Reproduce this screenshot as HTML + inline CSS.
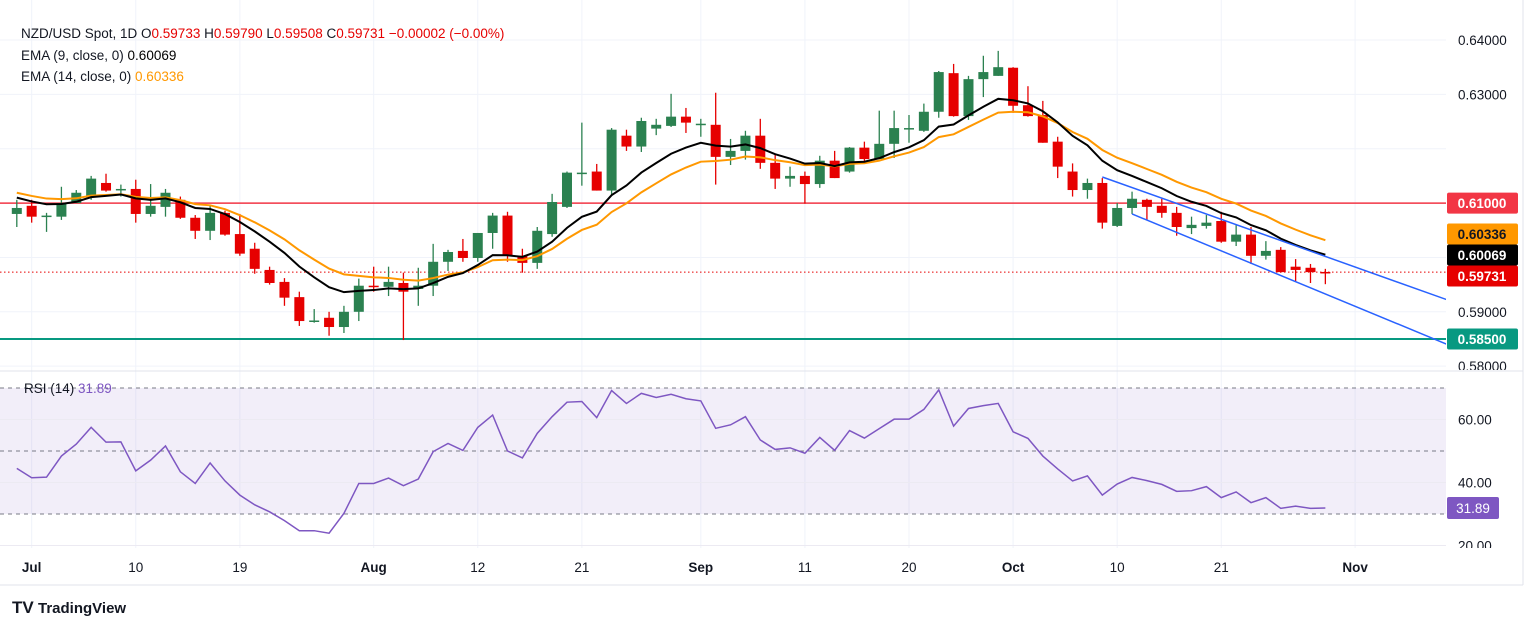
<!DOCTYPE html>
<html><head><meta charset="utf-8">
<style>
html,body{margin:0;padding:0;background:#fff;}
body{width:1536px;height:629px;overflow:hidden;font-family:"Liberation Sans",sans-serif;}
svg{display:block;}
</style></head>
<body>
<svg id="chart" width="1536" height="629" viewBox="0 0 1536 629" xmlns="http://www.w3.org/2000/svg" font-family="Liberation Sans, sans-serif">
  <g id="grid"></g>
  <g id="rsipane"></g>
  <g id="main"></g>
  <g id="axes"></g>
  <g font-size="13.5">
    <text x="21" y="38" fill="#131722">NZD/USD Spot, 1D  O<tspan fill="#e60000">0.59733</tspan>  H<tspan fill="#e60000">0.59790</tspan>  L<tspan fill="#e60000">0.59508</tspan>  C<tspan fill="#e60000">0.59731</tspan>  <tspan fill="#e60000">−0.00002 (−0.00%)</tspan></text>
    <text x="21" y="60" fill="#131722">EMA (9, close, 0)  <tspan fill="#000">0.60069</tspan></text>
    <text x="21" y="81" fill="#131722">EMA (14, close, 0)  <tspan fill="#ff9800">0.60336</tspan></text>
    <text x="24" y="393" fill="#131722">RSI (14)  <tspan fill="#7e57c2">31.89</tspan></text>
  </g>
  <g>
    <text x="12" y="613" font-size="17" font-weight="bold" fill="#131722">TV</text>
    <text x="38" y="613" font-size="15" font-weight="bold" fill="#131722">TradingView</text>
  </g>
</svg>
<script>
const opens=[0.6080,0.6095,0.6075,0.6075,0.6100,0.6113,0.6137,0.6124,0.6126,0.6080,0.6093,0.6106,0.6073,0.6049,0.6082,0.6043,0.6016,0.5977,0.5955,0.5927,0.5882,0.5889,0.5872,0.5900,0.5948,0.5946,0.5953,0.5942,0.5948,0.5992,0.6012,0.5999,0.6045,0.6077,0.6003,0.5990,0.6043,0.6093,0.6154,0.6158,0.6123,0.6224,0.6204,0.6237,0.6242,0.6259,0.6244,0.6244,0.6185,0.6196,0.6224,0.6174,0.6145,0.6150,0.6135,0.6178,0.6158,0.6202,0.6181,0.6209,0.6237,0.6233,0.6268,0.6339,0.6260,0.6328,0.6334,0.6349,0.6280,0.6262,0.6213,0.6158,0.6124,0.6137,0.6058,0.6091,0.6106,0.6095,0.6082,0.6054,0.6058,0.6067,0.6029,0.6042,0.6003,0.6014,0.5983,0.5981,0.59733];
const highs=[0.6106,0.6106,0.6082,0.6130,0.6124,0.6150,0.6154,0.6134,0.6143,0.6135,0.6126,0.6112,0.6078,0.6097,0.6086,0.6080,0.6027,0.5983,0.5962,0.5937,0.5905,0.5900,0.5911,0.5961,0.5983,0.5983,0.5972,0.5981,0.6025,0.6014,0.6034,0.6045,0.6082,0.6084,0.6016,0.6056,0.6117,0.6158,0.6248,0.6172,0.6238,0.6235,0.6257,0.6255,0.6301,0.6275,0.6255,0.6303,0.6218,0.6233,0.6255,0.6189,0.6167,0.6158,0.6187,0.6196,0.6203,0.6213,0.6270,0.6270,0.6262,0.6283,0.6343,0.6356,0.6334,0.6371,0.6380,0.6350,0.6315,0.6288,0.6222,0.6173,0.6145,0.6146,0.6100,0.6121,0.6108,0.6108,0.6093,0.6075,0.6078,0.6084,0.6060,0.6056,0.6030,0.6019,0.5997,0.5988,0.59790];
const lows=[0.6056,0.6064,0.6047,0.6069,0.6100,0.6106,0.6121,0.6112,0.6064,0.6075,0.6075,0.6071,0.6034,0.6032,0.6040,0.6003,0.5970,0.5950,0.5911,0.5874,0.5880,0.5856,0.5861,0.5883,0.5937,0.5929,0.5848,0.5911,0.5929,0.5975,0.5992,0.5992,0.6016,0.5992,0.5972,0.5979,0.6038,0.6091,0.6132,0.6123,0.6115,0.6196,0.6194,0.6225,0.6240,0.6229,0.6222,0.6134,0.6170,0.6180,0.6163,0.6126,0.6130,0.6099,0.6128,0.6146,0.6156,0.6174,0.6181,0.6183,0.6211,0.6231,0.6257,0.6259,0.6253,0.6295,0.6334,0.6266,0.6259,0.6211,0.6146,0.6112,0.6108,0.6053,0.6056,0.6080,0.6069,0.6073,0.6040,0.6043,0.6053,0.6027,0.6021,0.5988,0.5996,0.5972,0.5955,0.5953,0.59508];
const closes=[0.6091,0.6075,0.6077,0.6100,0.6119,0.6145,0.6123,0.6126,0.6080,0.6095,0.6119,0.6073,0.6049,0.6082,0.6042,0.6007,0.5979,0.5953,0.5926,0.5883,0.5884,0.5872,0.5900,0.5948,0.5946,0.5955,0.5937,0.5948,0.5992,0.6010,0.5999,0.6045,0.6077,0.6003,0.5990,0.6049,0.6102,0.6156,0.6156,0.6123,0.6235,0.6204,0.6251,0.6244,0.6259,0.6248,0.6246,0.6185,0.6196,0.6224,0.6174,0.6145,0.6150,0.6135,0.6178,0.6146,0.6202,0.6181,0.6209,0.6238,0.6238,0.6268,0.6341,0.6260,0.6328,0.6341,0.6350,0.6279,0.6260,0.6211,0.6167,0.6124,0.6137,0.6064,0.6091,0.6108,0.6093,0.6082,0.6056,0.6060,0.6064,0.6029,0.6042,0.6003,0.6012,0.5973,0.5977,0.5973,0.59731];
const rsiValues=[44.5,41.5,41.7,48.4,52.2,57.5,52.8,52.9,43.7,47.1,51.6,43.4,39.7,46.2,40.5,36.0,32.9,30.7,27.9,24.7,24.7,23.9,30.2,39.7,39.7,41.4,39.0,41.1,49.8,52.4,50.2,57.5,61.4,50.0,47.8,55.6,60.9,65.5,65.7,60.6,69.2,65.1,68.3,67.0,68.0,66.6,65.9,57.2,58.3,60.9,53.5,50.5,51.0,49.3,54.3,50.2,56.5,54.1,57.1,60.1,60.1,63.2,69.4,57.9,63.5,64.4,65.1,56.1,54.0,48.4,44.3,40.5,42.1,36.0,39.5,41.6,40.6,39.4,37.2,37.4,38.7,35.2,37.0,33.6,35.2,31.8,32.5,31.8,31.89];
const dateLabels=["Jul","10","19","Aug","12","21","Sep","11","20","Oct","10","21","Nov"];
const dateIndex=[1,8,15,24,31,38,46,53,60,67,74,81,90];
const monthLabels=["Jul","Aug","Sep","Oct","Nov"];
const priceTicks=[0.64,0.63,0.62,0.61,0.60,0.59,0.58];
const priceTickLabels=["0.64000","0.63000","","","","0.59000","0.58000"];
const rsiTicks=[60,40,20];
const rsiTickLabels=["60.00","40.00","20.00"];
const rsiBands=[70,50,30];
const levels=[0.61,0.585];
const channelUpper=[[73,0.6148],[96.2,0.5922]];
const channelLower=[[75,0.6080],[96.2,0.5840]];
const ema9Last=0.60069, ema14Last=0.60336, lastClose=0.59731, lastRsi=31.89;
const ema9Seed=0.6110, ema14Seed=0.6119;

const NS="http://www.w3.org/2000/svg";
const PLOT_R=1446;
function X(i){return 16.8+14.87*i;}
function Y(p){return 40+(0.64-p)*5436;}
function RY(v){return 451-(v-50)*3.15;}
function mk(tag,attrs,parent){const e=document.createElementNS(NS,tag);for(const k in attrs)e.setAttribute(k,attrs[k]);parent.appendChild(e);return e;}
const grid=document.getElementById('grid'),main=document.getElementById('main'),axes=document.getElementById('axes'),rp=document.getElementById('rsipane');

const defs=mk('defs',{},document.getElementById('chart'));
const cp=mk('clipPath',{id:'mclip'},defs);mk('rect',{x:0,y:0,width:PLOT_R,height:370},cp);
const cp2=mk('clipPath',{id:'aclip'},defs);mk('rect',{x:1446,y:0,width:90,height:370},cp2);
main.setAttribute('clip-path','url(#mclip)');

dateIndex.forEach((di,k)=>{
  const l=mk('line',{x1:X(di),x2:X(di),y1:0,y2:548,stroke:'#f0f3fa','stroke-width':1},grid);
  
  
  const isM=monthLabels.includes(dateLabels[k]);
  const t=mk('text',{x:X(di),y:572,'text-anchor':'middle','font-size':13.5,fill:'#131722','font-weight':isM?'bold':'normal'},axes);
  t.textContent=dateLabels[k];
  
  
});
const ag=mk('g',{'clip-path':'url(#aclip)'},axes);
priceTicks.forEach((p,k)=>{
  const l=mk('line',{x1:0,x2:PLOT_R,y1:Y(p),y2:Y(p),stroke:'#f0f3fa'},grid);
  
  
  if(priceTickLabels[k]){
    const t=mk('text',{x:1458,y:Y(p)+5,'font-size':13.5,fill:'#131722'},ag);
    t.textContent=priceTickLabels[k];
    
    
  }
});
mk('line',{x1:0,x2:1523,y1:371,y2:371,stroke:'#e0e3eb'},axes);
mk('line',{x1:1523,x2:1523,y1:0,y2:585,stroke:'#e0e3eb'},axes);
mk('line',{x1:0,x2:1523,y1:585,y2:585,stroke:'#e0e3eb'},axes);

const cp3=mk('clipPath',{id:'rclip'},defs);mk('rect',{x:0,y:372,width:1523,height:176},cp3);
rp.setAttribute('clip-path','url(#rclip)');
const band=mk('rect',{x:0,y:RY(rsiBands[0]),width:PLOT_R,height:RY(rsiBands[2])-RY(rsiBands[0]),fill:'rgba(126,87,194,0.1)'},rp);


rsiTicks.forEach((v,k)=>{
  const l=mk('line',{x1:0,x2:PLOT_R,y1:RY(v),y2:RY(v),stroke:'#eceaf2'},rp);
  
  
  const t=mk('text',{x:1458,y:RY(v)+5,'font-size':13.5,fill:'#131722'},rp);
  t.textContent=rsiTickLabels[k];
  
  
});
rsiBands.forEach(v=>{
  const l=mk('line',{x1:0,x2:PLOT_R,y1:RY(v),y2:RY(v),stroke:'#787b86','stroke-dasharray':'4,4'},rp);
  
  
});
const rl=mk('polyline',{points:rsiValues.map((v,i)=>X(i)+','+RY(v)).join(' '),fill:'none',stroke:'#7e57c2','stroke-width':1.5},rp);


mk('rect',{x:1447,y:RY(lastRsi)-11,width:52,height:22,fill:'#7e57c2',rx:2},rp);
const rt=mk('text',{x:1473,y:RY(lastRsi)+5,'text-anchor':'middle','font-size':13.5,fill:'#fff'},rp);
rt.textContent=lastRsi.toFixed(2);



const lvColors=['#f23645','#089981'];
levels.forEach((p,k)=>{
  const l=mk('line',{x1:0,x2:PLOT_R,y1:Y(p),y2:Y(p),stroke:lvColors[k],'stroke-width':k?2:1.5},main);
  
  
});
const cl=mk('line',{x1:0,x2:PLOT_R,y1:Y(lastClose),y2:Y(lastClose),stroke:'#e60000','stroke-dasharray':'1.5,2.5'},main);



const GREEN='#2b8150',RED='#e60000';
closes.forEach((c,i)=>{
  const o=opens[i],h=highs[i],l=lows[i];
  const col=c>=o?GREEN:RED;
  const g=mk('g',{},main);
  
  
  mk('line',{x1:X(i),x2:X(i),y1:Y(h),y2:Y(l),stroke:col,'stroke-width':1.3},g);
  const top=Y(Math.max(o,c)),bh=Math.max(1.5,Math.abs(Y(o)-Y(c)));
  mk('rect',{x:X(i)-5,y:top,width:10,height:bh,fill:col},g);
});

function ema(vals,n,seed){const a=2/(n+1);let e=seed;return vals.map((v,i)=>{if(i>0)e=a*v+(1-a)*e;else e=seed;return e;});}
const e14=ema(closes,14,ema14Seed),e9=ema(closes,9,ema9Seed);
const l14=mk('polyline',{points:e14.map((v,i)=>X(i)+','+Y(v)).join(' '),fill:'none',stroke:'#ff9800','stroke-width':2},main);


const l9=mk('polyline',{points:e9.map((v,i)=>X(i)+','+Y(v)).join(' '),fill:'none',stroke:'#000','stroke-width':2},main);



[channelUpper,channelLower].forEach((c,k)=>{
  const l=mk('line',{x1:X(c[0][0]),y1:Y(c[0][1]),x2:X(c[1][0]),y2:Y(c[1][1]),stroke:'#2962ff','stroke-width':1.5},main);
  
  
});

const tags=[[levels[0],'#f23645','#fff'],[ema14Last,'#ff9800','#131722'],[ema9Last,'#000','#fff'],[lastClose,'#e60000','#fff'],[levels[1],'#089981','#fff']];
let cy=tags.map(t=>Y(t[0]));
for(let it=0;it<20;it++){for(let k=1;k<cy.length;k++){const d=cy[k]-cy[k-1];if(d<21){const s=(21-d)/2;cy[k-1]-=s;cy[k]+=s;}}}
tags.forEach((t,k)=>{
  const g=mk('g',{},axes);
  
  
  mk('rect',{x:1447,y:cy[k]-10.5,width:71,height:21,fill:t[1],rx:2},g);
  const tx=mk('text',{x:1482,y:cy[k]+5,'text-anchor':'middle','font-size':13.5,'font-weight':'bold',fill:t[2]},g);
  tx.textContent=t[0].toFixed(5);
});
</script>
</body></html>
